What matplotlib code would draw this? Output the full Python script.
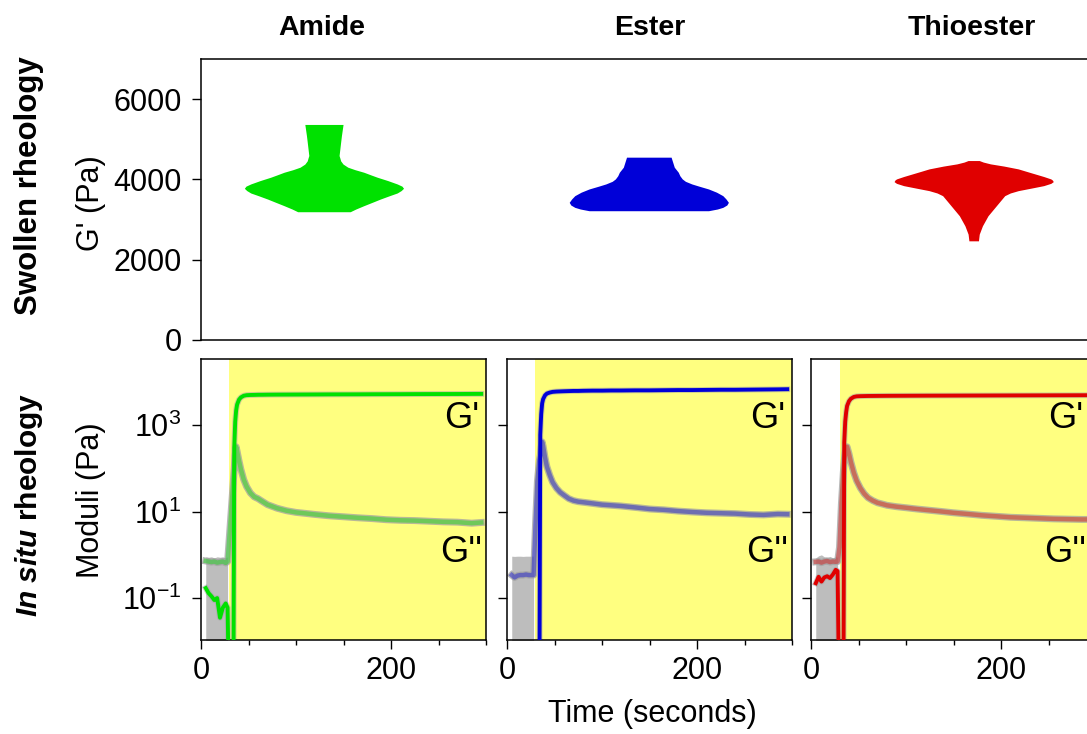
import matplotlib
matplotlib.use("Agg")
import matplotlib.pyplot as plt
from matplotlib.ticker import MultipleLocator, NullLocator

plt.rcParams['font.family'] = 'Liberation Sans'
plt.rcParams['mathtext.fontset'] = 'custom'
plt.rcParams['mathtext.rm'] = 'Liberation Sans'
plt.rcParams['mathtext.it'] = 'Liberation Sans:italic'
plt.rcParams['mathtext.bf'] = 'Liberation Sans:bold'
plt.rcParams['mathtext.bfit'] = 'Liberation Sans:italic:bold'

FS = 22

materials = ['Amide', 'Ester', 'Thioester']
colors = ['#00e100', '#0000d8', '#e00000']

# swollen G' density profiles (Pa, relative density)
amide_g = [3183, 3250, 3333, 3420, 3500, 3580, 3650, 3710, 3767, 3820, 3875, 3960, 4042,
           4100, 4167, 4230, 4292, 4370, 4450, 4520, 4583, 4750, 4920, 5083, 5220, 5357]
amide_d = [0.33, 0.40, 0.50, 0.61, 0.71, 0.82, 0.92, 0.97, 1.00, 0.98, 0.92, 0.80, 0.67,
           0.59, 0.50, 0.39, 0.30, 0.24, 0.21, 0.20, 0.19, 0.20, 0.21, 0.22, 0.23, 0.24]
ester_g = [3208, 3250, 3292, 3350, 3417, 3500, 3583, 3670, 3750, 3820, 3875, 3940, 4000,
           4080, 4167, 4292, 4417, 4542]
ester_d = [0.75, 0.86, 0.93, 0.98, 1.00, 0.97, 0.93, 0.85, 0.75, 0.63, 0.54, 0.46, 0.42,
           0.39, 0.37, 0.32, 0.30, 0.28]
thio_g = [2458, 2625, 2833, 3083, 3250, 3417, 3583, 3650, 3708, 3770, 3833, 3890, 3933,
          3970, 4000, 4060, 4125, 4190, 4250, 4320, 4375, 4420, 4458]
thio_d = [0.06, 0.07, 0.11, 0.18, 0.25, 0.32, 0.39, 0.46, 0.56, 0.72, 0.88, 0.97, 1.00,
          0.99, 0.97, 0.88, 0.77, 0.66, 0.56, 0.38, 0.21, 0.12, 0.07]

# in situ time sweep (seconds)
t_s = [5, 8, 11, 14, 17, 20, 23, 26, 28, 30, 32, 34, 35, 36, 37, 38, 40, 42, 45, 48,
       52, 56, 60, 65, 70, 75, 80, 90, 100, 110, 120, 135, 150, 165, 180, 195, 210,
       225, 240, 255, 270, 285, 295]

amide_gp = [0.17, 0.13, 0.11, 0.09, 0.1, 0.035, 0.06, 0.075, 0.06, 1e-4, 1e-4, 1e-4, 300,
            1200, 2200, 3000, 3900, 4400, 4800, 4950, 5000, 5020, 5050, 5060, 5080, 5090,
            5100, 5110, 5120, 5130, 5140, 5160, 5170, 5180, 5200, 5210, 5220, 5240, 5250,
            5260, 5270, 5290, 5300]
amide_gpp = [0.72, 0.7, 0.68, 0.7, 0.66, 0.68, 0.7, 0.65, 0.7, 2.9, 12, 50, 100, 205,
             316, 250, 150, 95, 55, 38, 27, 22, 20, 17, 14.5, 13.2, 12, 10.5, 9.6, 9.1,
             8.6, 8.0, 7.6, 7.2, 6.9, 6.5, 6.3, 6.2, 6.0, 5.8, 5.7, 5.4, 5.6]

ester_gp = [1e-4, 1e-4, 1e-4, 1e-4, 1e-4, 1e-4, 1e-4, 1e-4, 1e-4, 1e-4, 1e-4, 1e-4, 600,
            1800, 3200, 4000, 4900, 5400, 5700, 5900, 6000, 6050, 6100, 6150, 6200, 6200,
            6250, 6300, 6300, 6350, 6350, 6400, 6400, 6450, 6500, 6500, 6550, 6600, 6600,
            6650, 6700, 6750, 6800]
ester_gpp = [0.34, 0.3, 0.33, 0.34, 0.34, 0.35, 0.34, 0.34, 0.34, 5, 50, 150, 200, 320,
             410, 330, 180, 110, 70, 48, 35, 28, 24, 20, 18, 17, 16.5, 15.5, 14.5, 14,
             13.5, 12.5, 11.5, 11, 10.3, 9.8, 9.4, 9.2, 9.0, 8.6, 8.4, 8.8, 8.7]

thio_gp = [0.22, 0.31, 0.24, 0.3, 0.32, 0.29, 0.35, 0.45, 0.42, 1e-4, 1e-4, 1e-4, 400,
           1200, 2000, 2800, 3600, 4100, 4500, 4650, 4700, 4720, 4740, 4750, 4760, 4770,
           4780, 4790, 4800, 4810, 4820, 4830, 4840, 4850, 4860, 4870, 4880, 4890, 4900,
           4910, 4920, 4930, 4940]
thio_gpp = [0.69, 0.7, 0.66, 0.7, 0.72, 0.68, 0.7, 0.69, 0.7, 1.5, 15, 80, 150, 230,
            300, 316, 220, 140, 80, 52, 35, 26, 21, 18, 16, 15, 14, 13, 12.3, 11.6, 11,
            10.2, 9.4, 8.8, 8.2, 7.8, 7.4, 7.2, 7.0, 6.8, 6.7, 6.6, 6.6]

# upper edge of the scatter band before gelation
pre_t = [5, 8, 11, 14, 17, 20, 23, 26, 28]
amide_band = [0.9, 0.88, 0.9, 0.85, 0.9, 0.88, 0.9, 0.85, 0.9]
ester_band = [0.93, 0.92, 0.93, 0.93, 0.92, 0.93, 0.93, 0.93, 0.93]
thio_band = [0.85, 0.95, 1.0, 0.9, 0.88, 0.92, 0.85, 0.9, 0.88]

gel_start = [29, 29, 30]

profiles = [(amide_g, amide_d), (ester_g, ester_d), (thio_g, thio_d)]
gp_all = [amide_gp, ester_gp, thio_gp]
gpp_all = [amide_gpp, ester_gpp, thio_gpp]
bands = [amide_band, ester_band, thio_band]

W, H = 1087, 734
fig = plt.figure(figsize=(W / 100, H / 100), dpi=100)


def px_axes(x0, y0, x1, y1):
    return fig.add_axes([x0 / W, 1 - y1 / H, (x1 - x0) / W, (y1 - y0) / H])


def style(ax):
    for sp in ax.spines.values():
        sp.set_linewidth(1.1)
    ax.tick_params(which='major', length=6.5, width=1, labelsize=FS, pad=5)
    ax.tick_params(axis='y', pad=7.5)
    ax.tick_params(which='minor', length=3.5, width=1)


# swollen rheology (violins)
top = px_axes(201, 59, 1096, 340)
style(top)
vpstats = []
for g, d in profiles:
    peak = g[d.index(max(d))]
    vpstats.append({'coords': g, 'vals': d, 'mean': peak, 'median': peak,
                    'min': g[0], 'max': g[-1]})
parts = top.violin(vpstats, positions=[1, 2, 3], widths=0.49,
                   showmeans=False, showextrema=False, showmedians=False)
for body, c in zip(parts['bodies'], colors):
    body.set_facecolor(c)
    body.set_edgecolor('none')
    body.set_alpha(1)
top.set_xlim(0.62, 3.375)
top.set_ylim(0, 7000)
top.set_xticks([])
top.set_yticks([0, 2000, 4000, 6000])

# in situ rheology
lefts = [201, 507, 811]
for i in range(3):
    ax = px_axes(lefts[i], 359, lefts[i] + 285, 640)
    style(ax)
    ax.axvspan(gel_start[i], 300, color='#ffff80', lw=0, zorder=0)
    ax.fill_between(pre_t, 1e-4, bands[i], color='#bdbdbd', lw=0, zorder=1)
    ax.plot(t_s, gpp_all[i], color='#a0a0a0', lw=5, alpha=0.75, zorder=2)
    ax.plot(t_s, gpp_all[i], color=colors[i], lw=3.2, alpha=0.4, zorder=3)
    ax.plot(t_s, gp_all[i], color='#a0a0a0', lw=4.2, alpha=0.5, zorder=2)
    ax.plot(t_s, gp_all[i], color=colors[i], lw=2.8, zorder=4)
    ax.set_yscale('log')
    ax.set_ylim(0.0107, 3.4e4)
    ax.set_yticks([0.1, 10, 1000])
    ax.yaxis.set_minor_locator(NullLocator())
    ax.set_xlim(0, 300)
    ax.xaxis.set_major_locator(MultipleLocator(200))
    ax.xaxis.set_minor_locator(MultipleLocator(50))
    if i > 0:
        ax.tick_params(labelleft=False)
    tx = 0.975 if i < 2 else 0.955
    ax.text(tx, 0.79, "G'", transform=ax.transAxes, ha='right', va='center',
            fontsize=26, zorder=5)
    ax.text(tx + 0.01, 0.31, "G''", transform=ax.transAxes, ha='right', va='center',
            fontsize=26, zorder=5)

# titles and labels
for x, name in zip([322, 650, 972], materials):
    fig.text(x / W, 1 - 28 / H, name, ha='center', va='center',
             fontsize=20.5, fontweight='bold')

fig.text(29 / W, 1 - 186 / H, 'Swollen rheology', rotation=90, ha='center',
         va='center', fontsize=22.5, fontweight='bold')
fig.text(29 / W, 1 - 505 / H, r'$\mathbfit{In\ situ}$ rheology', rotation=90,
         ha='center', va='center', fontsize=21.5, fontweight='bold')
fig.text(91 / W, 1 - 203 / H, "G' (Pa)", rotation=90, ha='center', va='center',
         fontsize=FS)
fig.text(91 / W, 1 - 500 / H, 'Moduli (Pa)', rotation=90, ha='center',
         va='center', fontsize=FS)
fig.text(652 / W, 1 - 714 / H, 'Time (seconds)', ha='center', va='center',
         fontsize=FS)

fig.savefig('out.png', dpi=100)
